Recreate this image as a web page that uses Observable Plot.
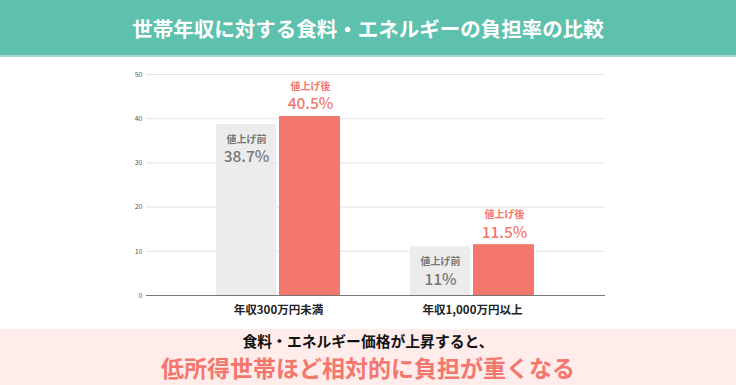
<!DOCTYPE html>
<html><head><meta charset="utf-8">
<script src="https://cdn.jsdelivr.net/npm/d3@7"></script>
<script src="https://cdn.jsdelivr.net/npm/@observablehq/plot@0.6"></script>
<style>
body{margin:0;width:736px;height:385px;overflow:hidden;font-family:"Noto Sans CJK JP",sans-serif;background:#fff}
#head{height:55px;background:#5dc1ad;border-bottom:2px solid #a6ddd0;color:#fff;font-weight:700;font-size:20.5px;display:flex;align-items:center;justify-content:center;letter-spacing:0}
#chart{height:272px}
#chart svg{display:block}
#foot{position:relative;height:56px;background:#ffeceb;text-align:center}
#foot .l1{position:absolute;left:0;right:0;top:2px;font-size:14.8px;font-weight:700;color:#111;line-height:20px}
#foot .l2{position:absolute;left:0;right:0;top:23px;font-size:23px;font-weight:700;color:#f4776d;line-height:30px}
</style></head><body>
<div id="head">世帯年収に対する食料・エネルギーの負担率の比較</div>
<div id="chart"></div>
<div id="foot"><div class="l1">食料・エネルギー価格が上昇すると、</div><div class="l2">低所得世帯ほど相対的に負担が重くなる</div></div>
<script>
const groups = ["年収300万円未満", "年収1,000万円以上"];
const series = ["値上げ前", "値上げ後"];
const before = [38.7, 11];
const after = [40.5, 11.5];
const yTicks = [0, 10, 20, 30, 40, 50];
const barColors = ["#ececec", "#f4776d"];
const textColors = ["#777777", "#f4776d"];

const rows = groups.flatMap((g, i) => [
  {group: g, series: series[0], value: before[i]},
  {group: g, series: series[1], value: after[i]}
]);
const pre = rows.filter(d => d.series === series[0]);
const post = rows.filter(d => d.series === series[1]);
const font = '"Noto Sans CJK JP", sans-serif';

const chart = Plot.plot({
  width: 736, height: 272,
  marginLeft: 146, marginRight: 131, marginTop: 17, marginBottom: 34,
  style: {fontFamily: font, background: "transparent"},
  x: {domain: groups, padding: 0.359, label: null},
  y: {domain: [0, 50], label: null},
  color: {domain: series, range: barColors},
  marks: [
    Plot.gridY(yTicks.slice(1), {stroke: "#e4e4e4", strokeOpacity: 1}),
    Plot.axisY(yTicks, {tickSize: 0, tickPadding: 4, fontSize: 7, fill: "#555", label: null}),
    Plot.barY(pre, {x: "group", y: "value", fill: "series", insetRight: 64}),
    Plot.barY(post, {x: "group", y: "value", fill: "series", insetLeft: 63}),
    Plot.ruleY([0], {stroke: "#777"}),
    Plot.axisX({tickSize: 0, tickPadding: 10, fontSize: 11.5, fontWeight: "bold", fill: "#222", label: null}),
    Plot.text(pre, {x: "group", y: "value", text: "series", dx: -32, dy: 15, fontSize: 10, fontWeight: "bold", fill: textColors[0]}),
    Plot.text(pre, {x: "group", y: "value", text: d => d.value + "%", dx: -32, dy: 33, fontSize: 15.5, fontWeight: 500, fill: textColors[0]}),
    Plot.text(post, {x: "group", y: "value", text: "series", dx: 32, dy: -30, fontSize: 10, fontWeight: "bold", fill: textColors[1]}),
    Plot.text(post, {x: "group", y: "value", text: d => d.value + "%", dx: 32, dy: -12, fontSize: 15.5, fontWeight: 500, fill: textColors[1]})
  ]
});
document.getElementById("chart").appendChild(chart);
</script>
</body></html>
